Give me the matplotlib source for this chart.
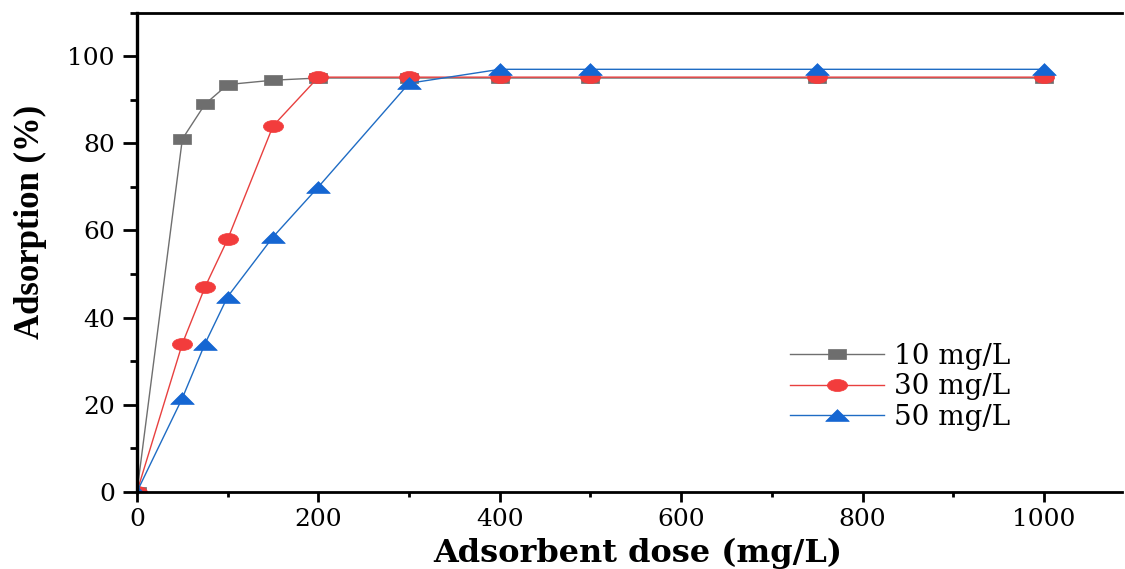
import matplotlib
matplotlib.use("Agg")
import matplotlib.pyplot as plt
from matplotlib.path import Path
from matplotlib.ticker import MultipleLocator

# ---- data ----
dose = [0, 50, 75, 100, 150, 200, 300, 400, 500, 750, 1000]
ads_10 = [0, 81.0, 89.0, 93.5, 94.5, 95.0, 95.0, 95.0, 95.0, 95.0, 95.0]
ads_30 = [0, 34.0, 47.0, 58.0, 84.0, 95.2, 95.2, 95.2, 95.2, 95.2, 95.2]
ads_50 = [0, 21.5, 34.0, 44.8, 58.5, 70.0, 93.8, 97.0, 97.0, 97.0, 97.0]
labels = ["10 mg/L", "30 mg/L", "50 mg/L"]
x_ticks = [0, 200, 400, 600, 800, 1000]
y_ticks = [0, 20, 40, 60, 80, 100]

# ---- wide (horizontally stretched) marker shapes ----
def rect_marker(h):
    return Path([(-1, -h), (1, -h), (1, h), (-1, h), (-1, -h)],
                [Path.MOVETO, Path.LINETO, Path.LINETO, Path.LINETO, Path.CLOSEPOLY])

def ellipse_marker(h):
    c = Path.unit_circle()
    return Path(c.vertices * [1, h], c.codes)

def tri_marker(h):
    return Path([(-1, -h), (1, -h), (0, h), (-1, -h)],
                [Path.MOVETO, Path.LINETO, Path.LINETO, Path.CLOSEPOLY])

sq = rect_marker(0.56)
ci = ellipse_marker(0.6)
tr = tri_marker(0.5)

W, H = 1125, 569
fig = plt.figure(figsize=(W / 100, H / 100), dpi=100)
ax = fig.add_axes([137 / W, 1 - 491.7 / H, (1122 - 137) / W, (491.7 - 12.7) / H])

series = [
    (ads_10, "#6f6f6f", "#6e6e6e", sq, 13.0),
    (ads_30, "#e8403f", "#f23c3c", ci, 14.5),
    (ads_50, "#1f6cc4", "#1566d2", tr, 17.0),
]
for (vals, lc, mc, mk, ms), lab in zip(series, labels):
    ax.plot(dose, vals, color=lc, lw=1.0, marker=mk, markersize=ms,
            markerfacecolor=mc, markeredgecolor=mc, markeredgewidth=0.5,
            label=lab)

ax.set_xlim(0, 1086)
ax.set_ylim(0, 110)

for s in ["left", "bottom", "top"]:
    ax.spines[s].set_linewidth(2)
    ax.spines[s].set_color("black")
ax.spines["left"].set_linewidth(2.4)
ax.spines["right"].set_visible(False)

ax.set_xticks(x_ticks)
ax.set_yticks(y_ticks)
ax.xaxis.set_minor_locator(MultipleLocator(100))
ax.yaxis.set_minor_locator(MultipleLocator(10))
ax.tick_params(axis="x", which="major", direction="out", length=7, width=2, pad=5,
               labelsize=18, top=False)
ax.tick_params(axis="x", which="minor", direction="out", length=3.5, width=2, top=False)
ax.tick_params(axis="y", which="major", direction="out", length=10, width=2, pad=6,
               labelsize=18, right=False)
ax.tick_params(axis="y", which="minor", direction="out", length=5, width=2, right=False)
for t in ax.get_xticklabels() + ax.get_yticklabels():
    t.set_fontfamily("DejaVu Serif")

ax.set_xlabel("Adsorbent dose (mg/L)", fontsize=23, fontweight="bold",
              fontfamily="DejaVu Serif")
ax.xaxis.set_label_coords(0.508, -0.128)
ax.xaxis.label.set_va("center")
ax.set_ylabel("Adsorption (%)", fontsize=25, fontweight="bold",
              fontfamily="Liberation Serif")
ax.yaxis.set_label_coords(-0.1086, 0.563)
ax.yaxis.label.set_va("center")

leg = ax.legend(loc="upper left", bbox_to_anchor=(790 / W, 1 - 343 / H),
                bbox_transform=fig.transFigure, frameon=False,
                prop={"family": "DejaVu Serif", "size": 20},
                handlelength=3.4, handletextpad=0.35, labelspacing=0.12,
                borderpad=0, borderaxespad=0)

fig.savefig("out.png", dpi=100, facecolor="white")
